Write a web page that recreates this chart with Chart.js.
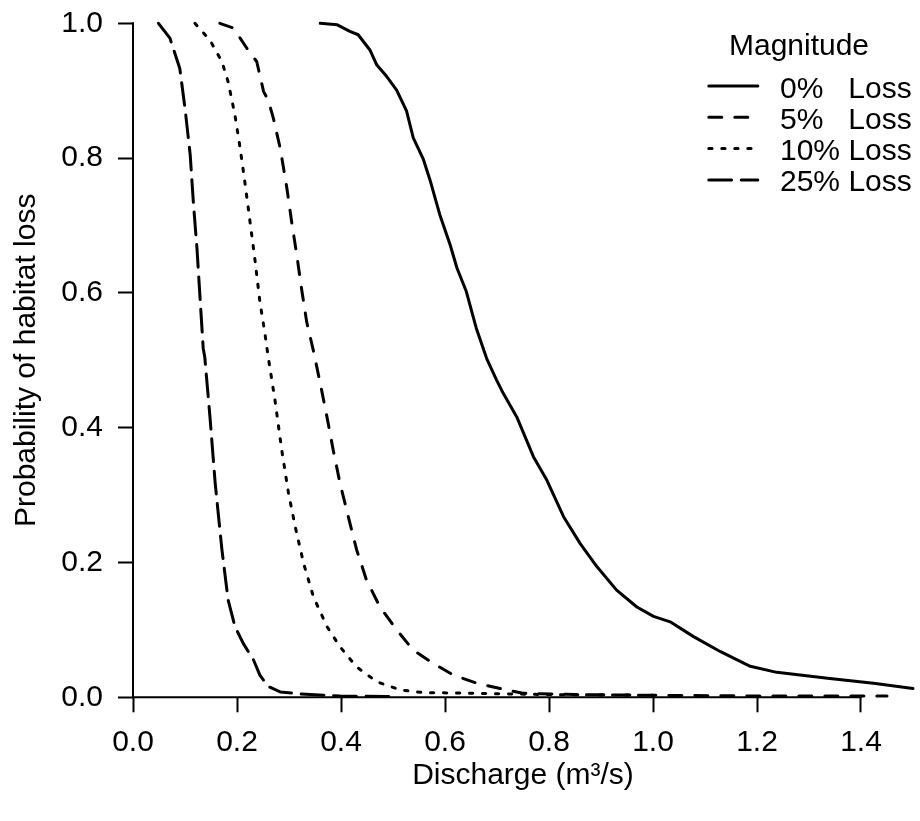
<!DOCTYPE html>
<html>
<head>
<meta charset="utf-8">
<script src="https://cdn.jsdelivr.net/npm/chart.js@4.4.1/dist/chart.umd.min.js"></script>
<style>
  html, body { margin: 0; padding: 0; background: #fff; }
  canvas { display: block; }
</style>
</head>
<body>
<canvas id="c" width="920" height="821"></canvas>
<script>
// ---- data ----
const xTicks = [0.0, 0.2, 0.4, 0.6, 0.8, 1.0, 1.2, 1.4];
const yTicks = [0.0, 0.2, 0.4, 0.6, 0.8, 1.0];

const loss0X = [0.360, 0.392, 0.417, 0.433, 0.456, 0.469, 0.488, 0.507, 0.526, 0.539, 0.558, 0.571, 0.590, 0.610, 0.623, 0.641, 0.660, 0.680, 0.699, 0.712, 0.738, 0.770, 0.796, 0.828, 0.860, 0.892, 0.930, 0.969, 1.001, 1.033, 1.078, 1.129, 1.187, 1.238, 1.340, 1.424, 1.500];
const loss0Y = [1.000, 0.998, 0.988, 0.983, 0.960, 0.938, 0.921, 0.901, 0.870, 0.830, 0.799, 0.768, 0.716, 0.671, 0.637, 0.602, 0.548, 0.503, 0.471, 0.451, 0.416, 0.357, 0.322, 0.268, 0.228, 0.194, 0.159, 0.134, 0.120, 0.112, 0.090, 0.068, 0.046, 0.037, 0.028, 0.021, 0.013];

const loss5X = [0.167, 0.193, 0.206, 0.219, 0.238, 0.244, 0.251, 0.260, 0.270, 0.283, 0.296, 0.305, 0.315, 0.324, 0.334, 0.347, 0.360, 0.373, 0.385, 0.398, 0.414, 0.430, 0.449, 0.475, 0.507, 0.539, 0.578, 0.616, 0.661, 0.706, 0.750, 0.850, 1.000, 1.200, 1.450];
const loss5Y = [1.000, 0.993, 0.978, 0.963, 0.943, 0.923, 0.899, 0.886, 0.859, 0.815, 0.755, 0.706, 0.656, 0.607, 0.557, 0.514, 0.466, 0.416, 0.367, 0.318, 0.268, 0.219, 0.174, 0.134, 0.100, 0.070, 0.050, 0.033, 0.021, 0.013, 0.006, 0.004, 0.003, 0.002, 0.002];

const loss10X = [0.119, 0.148, 0.171, 0.183, 0.196, 0.206, 0.215, 0.225, 0.235, 0.244, 0.254, 0.260, 0.273, 0.286, 0.299, 0.312, 0.328, 0.347, 0.373, 0.398, 0.430, 0.469, 0.514, 0.558, 0.654, 0.800, 1.000];
const loss10Y = [1.000, 0.975, 0.943, 0.913, 0.864, 0.815, 0.765, 0.706, 0.646, 0.587, 0.538, 0.505, 0.441, 0.367, 0.303, 0.253, 0.199, 0.149, 0.105, 0.075, 0.045, 0.023, 0.011, 0.007, 0.006, 0.004, 0.003];

const loss25X = [0.049, 0.071, 0.090, 0.100, 0.110, 0.116, 0.123, 0.129, 0.135, 0.138, 0.148, 0.158, 0.171, 0.183, 0.196, 0.212, 0.232, 0.244, 0.260, 0.283, 0.321, 0.398, 0.500];
const loss25Y = [1.000, 0.978, 0.933, 0.874, 0.805, 0.735, 0.666, 0.592, 0.518, 0.505, 0.416, 0.318, 0.219, 0.144, 0.105, 0.080, 0.055, 0.033, 0.016, 0.008, 0.005, 0.002, 0.001];

const seriesLabels = ['0%   Loss', '5%   Loss', '10% Loss', '25% Loss'];
const legendTitle = 'Magnitude';
const xTitle = 'Discharge (m\u00B3/s)';
const yTitle = 'Probability of habitat loss';

// ---- build ----
const FONT = "'Liberation Sans', Arial, Helvetica, sans-serif";
const FS = 30;
const zip = (xs, ys) => xs.map((x, i) => ({ x: x, y: ys[i] }));
const dashes = [[], [13, 13], [3.25, 9.75], [22.75, 9.75]];
const allX = [loss0X, loss5X, loss10X, loss25X];
const allY = [loss0Y, loss5Y, loss10Y, loss25Y];

const datasets = seriesLabels.map((lab, i) => ({
  label: lab,
  data: zip(allX[i], allY[i]),
  borderColor: '#000',
  borderWidth: 3,
  borderDash: dashes[i],
  borderCapStyle: 'round',
  borderJoinStyle: 'round',
  pointRadius: 0,
  tension: 0,
  fill: false,
  clip: false
}));

const axisLines = {
  id: 'axisLines',
  beforeDatasetsDraw(chart) {
    const ctx = chart.ctx, xs = chart.scales.x, ys = chart.scales.y;
    ctx.save();
    ctx.strokeStyle = '#000';
    ctx.lineWidth = 2;
    ctx.lineCap = 'butt';
    ctx.beginPath();
    const y0 = ys.getPixelForValue(0);
    ctx.moveTo(xs.getPixelForValue(xTicks[0]) - 1, y0);
    ctx.lineTo(xs.getPixelForValue(xTicks[xTicks.length - 1]) + 1, y0);
    const x0 = xs.getPixelForValue(0);
    ctx.moveTo(x0, ys.getPixelForValue(yTicks[0]) + 1);
    ctx.lineTo(x0, ys.getPixelForValue(yTicks[yTicks.length - 1]) - 1);
    ctx.stroke();
    ctx.restore();
  }
};

const rLegend = {
  id: 'rLegend',
  afterDraw(chart) {
    const ctx = chart.ctx;
    ctx.save();
    ctx.fillStyle = '#000';
    ctx.font = FS + 'px ' + FONT;
    ctx.textAlign = 'center';
    ctx.textBaseline = 'alphabetic';
    ctx.fillText(legendTitle, 799, 55);
    ctx.textAlign = 'left';
    chart.data.datasets.forEach((ds, i) => {
      const ly = 86 + 31.3 * i;
      ctx.save();
      ctx.strokeStyle = ds.borderColor;
      ctx.lineWidth = ds.borderWidth;
      ctx.lineCap = 'round';
      ctx.setLineDash(ds.borderDash);
      ctx.beginPath();
      ctx.moveTo(708.8, ly);
      ctx.lineTo(757.8, ly);
      ctx.stroke();
      ctx.restore();
      ctx.fillText(ds.label, 780, ly + 11.5);
    });
    ctx.restore();
  }
};

new Chart(document.getElementById('c'), {
  type: 'line',
  data: { datasets: datasets },
  plugins: [axisLines, rLegend],
  options: {
    responsive: false,
    animation: false,
    devicePixelRatio: 1,
    layout: { padding: { left: 9, top: 23.3, right: 7, bottom: 27.5 } },
    plugins: { legend: { display: false }, tooltip: { enabled: false } },
    scales: {
      x: {
        type: 'linear',
        min: 0, max: 1.5,
        afterBuildTicks: (s) => { s.ticks = xTicks.map(v => ({ value: v })); },
        afterFit: (s) => { s.height = 96.2; s.paddingLeft = 0; s.paddingRight = 0; },
        border: { display: false },
        grid: { drawOnChartArea: false, drawTicks: true, tickLength: 15, tickWidth: 2, tickColor: '#000', color: '#000' },
        ticks: {
          color: '#000', padding: 12, maxRotation: 0, autoSkip: false,
          font: { family: FONT, size: FS },
          callback: (v) => Number(v).toFixed(1)
        },
        title: { display: true, text: xTitle, color: '#000', font: { family: FONT, size: FS }, padding: 0 }
      },
      y: {
        type: 'linear',
        min: 0, max: 1,
        afterBuildTicks: (s) => { s.ticks = yTicks.map(v => ({ value: v })); },
        afterFit: (s) => { s.width = 124; s.paddingTop = 0; s.paddingBottom = 0; },
        border: { display: false },
        grid: { drawOnChartArea: false, drawTicks: true, tickLength: 15, tickWidth: 2, tickColor: '#000', color: '#000' },
        ticks: {
          color: '#000', padding: 15, autoSkip: false,
          font: { family: FONT, size: FS },
          callback: (v) => Number(v).toFixed(1)
        },
        title: { display: true, text: yTitle, color: '#000', font: { family: FONT, size: FS }, padding: 0 }
      }
    }
  }
});
</script>
</body>
</html>
